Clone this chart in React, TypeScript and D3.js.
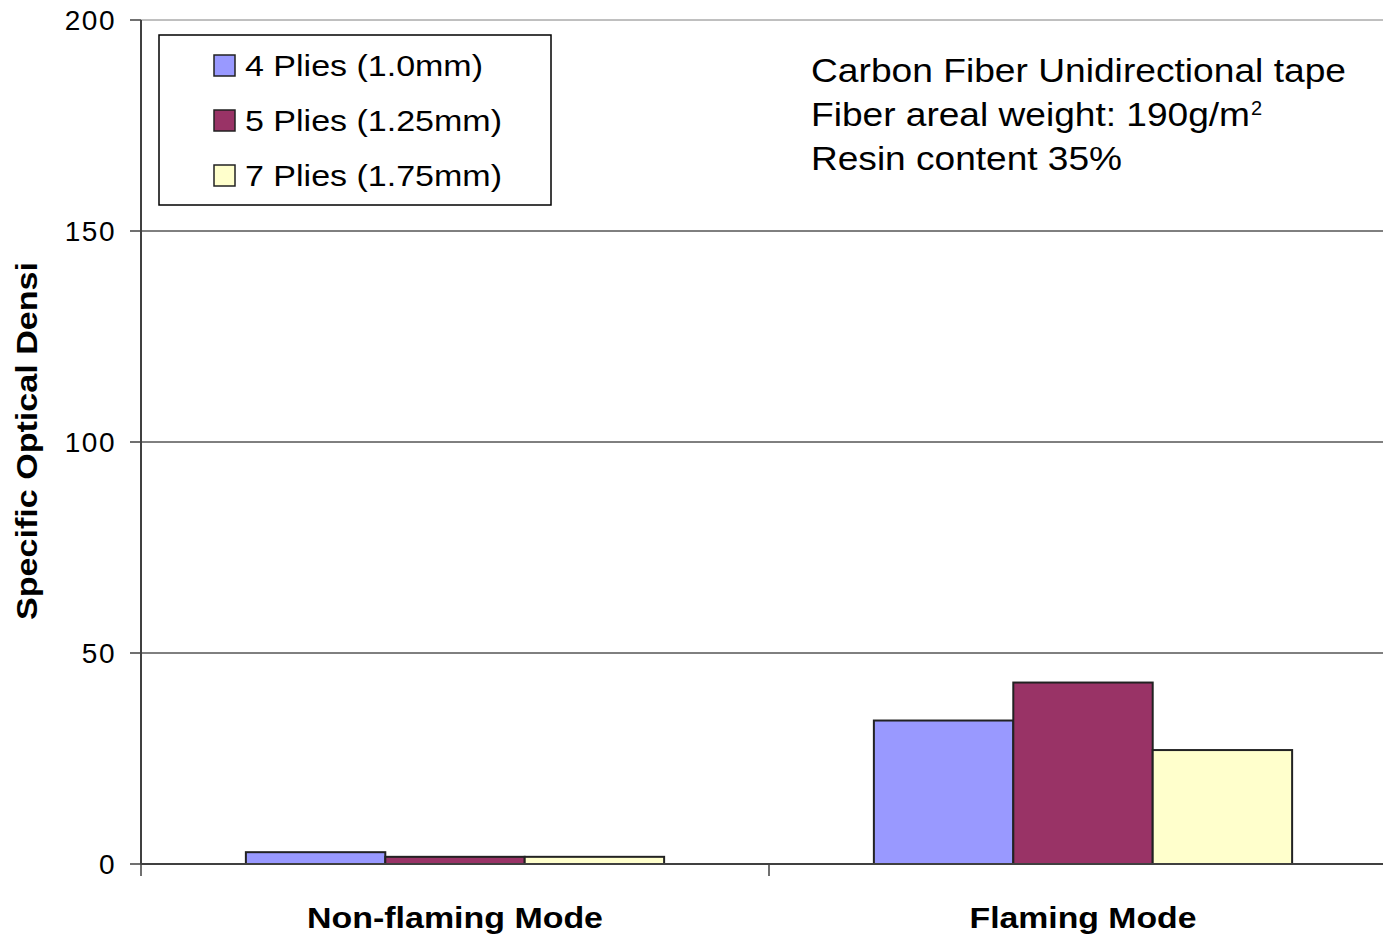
import React from "react";
import * as d3 from "d3";

const categories = ["Non-flaming Mode", "Flaming Mode"];
const seriesNames = ["4 Plies (1.0mm)", "5 Plies (1.25mm)", "7 Plies (1.75mm)"];
const seriesColors = ["#9999ff", "#993366", "#ffffcc"];
const ply4 = [2.8, 34];
const ply5 = [1.7, 43];
const ply7 = [1.7, 27];
const yTicks = [0, 50, 100, 150, 200];
const annotation = ["Carbon Fiber Unidirectional tape", "Fiber areal weight: 190g/m", "Resin content 35%"];

const legendWidths = [238, 257, 257];
const catWidths = [296, 227];
const annWidths = [535, 439, 311];

export default function App() {
  const W = 1383, H = 936;
  const x0 = 141, plotTop = 20, plotBottom = 864, xRight = 1397;
  const font = "'Liberation Sans', Arial, sans-serif";
  const y = d3.scaleLinear().domain([0, 200]).range([plotBottom, plotTop]);
  const xBand = d3.scaleBand().domain(categories).range([x0, xRight]);
  const bw = xBand.bandwidth();
  const groupW = bw * 0.666;
  const inner = d3.scaleBand().domain(seriesNames).range([(bw - groupW) / 2, (bw + groupW) / 2]);
  const series = [ply4, ply5, ply7];
  return (
    <svg width={W} height={H} style={{ position: "absolute", left: 0, top: 0, background: "#fff" }}>
      {yTicks.map((t) => (
        <line key={"g" + t} x1={x0} x2={W} y1={y(t)} y2={y(t)} stroke={t === 200 ? "#808080" : "#000"} strokeWidth={1} />
      ))}
      {yTicks.map((t) => (
        <g key={"t" + t}>
          <line x1={130} x2={x0} y1={y(t)} y2={y(t)} stroke="#404040" strokeWidth={1.5} />
          <text x={116} y={y(t) + 10} textAnchor="end" fontFamily={font} fontSize={28} letterSpacing={1.5} fill="#000">
            {t}
          </text>
        </g>
      ))}
      {categories.map((c, ci) =>
        series.map((s, si) => (
          <rect
            key={c + si}
            x={(xBand(c) as number) + (inner(seriesNames[si]) as number)}
            y={y(s[ci])}
            width={inner.bandwidth()}
            height={y(0) - y(s[ci])}
            fill={seriesColors[si]}
            stroke="#222"
            strokeWidth={2}
          />
        ))
      )}
      <line x1={x0} x2={x0} y1={plotTop} y2={plotBottom} stroke="#404040" strokeWidth={2} />
      <line x1={x0} x2={W} y1={plotBottom} y2={plotBottom} stroke="#404040" strokeWidth={2} />
      {[x0, x0 + bw].map((xx, i) => (
        <line key={"xt" + i} x1={xx} x2={xx} y1={plotBottom} y2={876} stroke="#404040" strokeWidth={1.5} />
      ))}
      {categories.map((c, i) => (
        <text
          key={c}
          x={(xBand(c) as number) + bw / 2 - catWidths[i] / 2}
          y={928}
          textLength={catWidths[i]}
          lengthAdjust="spacingAndGlyphs"
          fontFamily={font}
          fontWeight="bold"
          fontSize={29}
          fill="#000"
        >
          {c}
        </text>
      ))}
      <text
        transform="translate(37,620) rotate(-90)"
        textLength={358}
        lengthAdjust="spacingAndGlyphs"
        fontFamily={font}
        fontWeight="bold"
        fontSize={29}
        fill="#000"
      >
        Specific Optical Densi
      </text>
      <rect x={159} y={35} width={392} height={170} fill="#fff" stroke="#000" strokeWidth={1.5} />
      {seriesNames.map((n, i) => (
        <g key={n}>
          <rect x={214} y={55 + i * 55} width={21} height={21} fill={seriesColors[i]} stroke="#222" strokeWidth={1.5} />
          <text
            x={245}
            y={76 + i * 55}
            textLength={legendWidths[i]}
            lengthAdjust="spacingAndGlyphs"
            fontFamily={font}
            fontSize={29}
            fill="#000"
          >
            {n}
          </text>
        </g>
      ))}
      {annotation.map((a, i) => (
        <g key={a}>
          <text
            x={811}
            y={82 + i * 44}
            textLength={annWidths[i]}
            lengthAdjust="spacingAndGlyphs"
            fontFamily={font}
            fontSize={33}
            fill="#000"
          >
            {a}
          </text>
          {i === 1 ? (
            <text x={811 + annWidths[i] + 1} y={82 + i * 44 - 11} fontFamily={font} fontSize={20} fill="#000">
              2
            </text>
          ) : null}
        </g>
      ))}
    </svg>
  );
}
